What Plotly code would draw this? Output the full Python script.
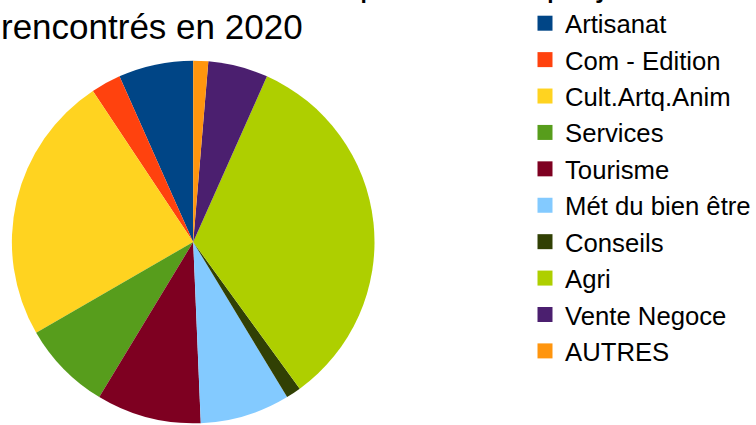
import plotly.graph_objects as go

categories = ["Artisanat", "Com - Edition", "Cult.Artq.Anim", "Services", "Tourisme",
              "Mét du bien être", "Conseils", "Agri", "Vente Negoce", "AUTRES"]
counts = [5, 2, 18, 6, 7, 6, 1, 25, 4, 1]
colors = ["#004586", "#ff420e", "#ffd320", "#579d1c", "#7e0021",
          "#83caff", "#314004", "#aecf00", "#4b1f6f", "#ff950e"]
title_line1 = "Secteurs d'activité des porteurs de projets"
title_line2 = "rencontrés en 2020"

W, H = 756, 425
cx, half_w = 195, 183
top = 59

fig = go.Figure()
fig.add_trace(go.Pie(
    labels=categories, values=counts, sort=False, direction="counterclockwise",
    rotation=-360 * counts[0] / sum(counts),
    marker=dict(colors=colors, line=dict(width=0)),
    textinfo="none", hoverinfo="label+value+percent", showlegend=False,
    domain=dict(x=[(cx - half_w) / W, (cx + half_w) / W], y=[0, 1 - top / H]),
))
for i, (name, col) in enumerate(zip(categories, colors)):
    fig.add_trace(go.Scatter(
        x=[None], y=[None], mode="markers", name=name,
        marker=dict(symbol="square", size=15, color=col),
    ))

fig.add_annotation(text=title_line2, xref="paper", yref="paper", x=-1 / W, y=1 - 5 / H,
                   xanchor="left", yanchor="top", showarrow=False,
                   font=dict(family="Liberation Sans", size=35, color="#000000"))
fig.add_annotation(text=title_line1, xref="paper", yref="paper", x=-1 / W, y=1 + 38 / H,
                   xanchor="left", yanchor="top", showarrow=False,
                   font=dict(family="Liberation Sans", size=35, color="#000000"))

fig.update_layout(
    width=W, height=H, margin=dict(l=0, r=0, t=0, b=0),
    paper_bgcolor="white", plot_bgcolor="white",
    xaxis=dict(visible=False), yaxis=dict(visible=False),
    font=dict(family="Liberation Sans", color="#000000"),
    legend=dict(x=530 / W, y=1, xanchor="left", yanchor="top",
                font=dict(family="Liberation Sans", size=25.7, color="#000000"),
                itemwidth=30, bgcolor="rgba(0,0,0,0)"),
)
fig.write_html("out.html", config={"displayModeBar": False},
               post_script="document.body.style.margin='0';document.body.style.overflow='hidden';")
